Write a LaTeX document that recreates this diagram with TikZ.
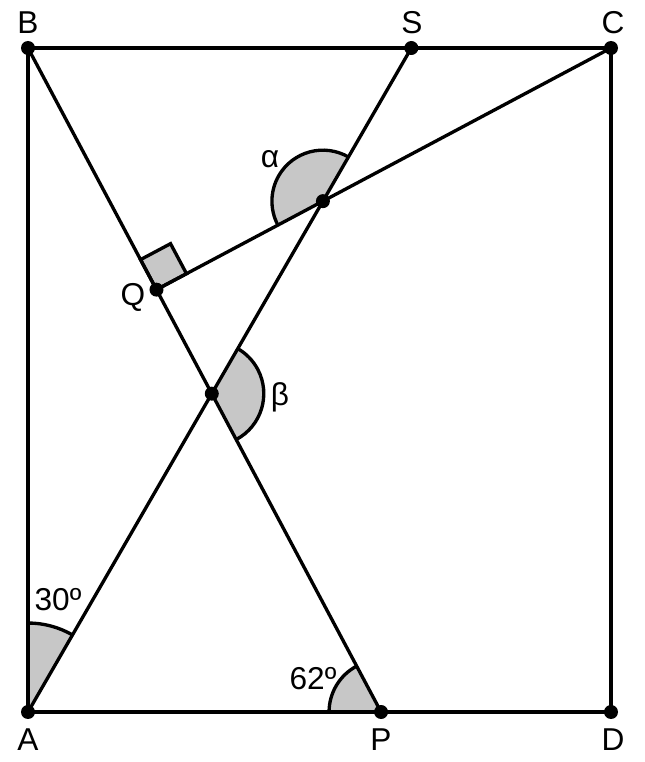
\documentclass[tikz,border=0pt]{standalone}
\usepackage{fontspec}
\setmainfont{Liberation Sans}
\usetikzlibrary{calc}

\begin{document}
\begin{tikzpicture}[x=0.02cm,y=0.02cm,line width=1.9pt,
  anglefill/.style={fill=black!22},
  dotpt/.style={fill=black},
  lbl/.style={font=\fontsize{18}{21}\selectfont, inner sep=0pt}]

\def \dotsize {0.14cm}
\def \radA {1.78cm}
\def \radP {1.04cm}
\def \radX {1.04cm}
\def \radY {1.02cm}
\def \sqsize {0.68cm}

\useasboundingbox (0,0) rectangle (645,762);

\coordinate (A) at (28,50);
\coordinate (B) at (28,714);
\coordinate (C) at (611,714);
\coordinate (D) at (611,50);
\coordinate (P) at ({28+664/tan(62)},50);
\coordinate (S) at ({28+664*tan(30)},714);
\coordinate (Q) at ($(B)!(C)!(P)$);
\coordinate (X) at (intersection of A--S and B--P);
\coordinate (Y) at (intersection of A--S and Q--C);

% shaded angles
\fill[anglefill] (A) -- ++(90:\radA) arc[start angle=90, end angle=60, radius=\radA] -- cycle;
\fill[anglefill] (P) -- ++(118:\radP) arc[start angle=118, end angle=180, radius=\radP] -- cycle;
\fill[anglefill] (X) -- ++(-62:\radX) arc[start angle=-62, end angle=60, radius=\radX] -- cycle;
\fill[anglefill] (Y) -- ++(60:\radY) arc[start angle=60, end angle=208, radius=\radY] -- cycle;
\filldraw[anglefill, draw=black] (Q) -- ++(28:\sqsize) -- ++(118:\sqsize) -- ++(208:\sqsize) -- cycle;

\draw (A) ++(90:\radA) arc[start angle=90, end angle=60, radius=\radA];
\draw (P) ++(118:\radP) arc[start angle=118, end angle=180, radius=\radP];
\draw (X) ++(-62:\radX) arc[start angle=-62, end angle=60, radius=\radX];
\draw (Y) ++(60:\radY) arc[start angle=60, end angle=208, radius=\radY];

% rectangle and lines
\draw (A) -- (B) -- (C) -- (D) -- cycle;
\draw (B) -- (P);
\draw (A) -- (S);
\draw (Q) -- (C);

\foreach \pt in {A,B,C,D,P,S,Q,X,Y}
  \fill[dotpt] (\pt) circle [radius=\dotsize];

% labels
\node[lbl] (lA) at (28,22) {A};
\node[lbl] (lP) at (381,22) {P};
\node[lbl] (lD) at (613,22) {D};
\node[lbl] (lB) at (28,739) {B};
\node[lbl] (lS) at (412,739) {S};
\node[lbl] (lC) at (613,739) {C};
\node[lbl] (lQ) at (133,465) {Q};
\node[lbl] (lalpha) at (270,603) {α};
\node[lbl] (lbeta) at (280,365) {β};
\node[lbl] (lthirty) at (58,162) {30º};
\node[lbl] (lsixtytwo) at (313,83) {62º};
\end{tikzpicture}
\end{document}
